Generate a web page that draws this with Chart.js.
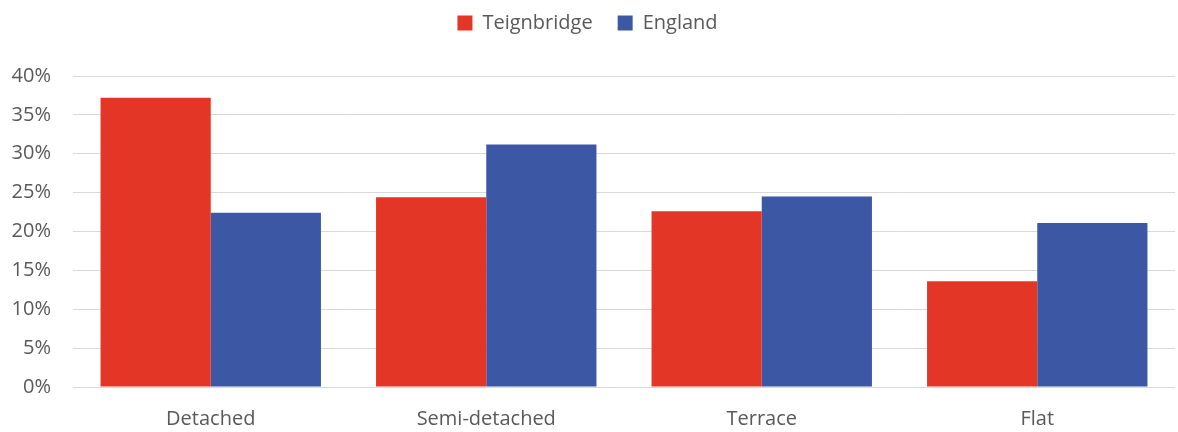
<!DOCTYPE html>
<html>
<head>
<meta charset="utf-8">
<script src="https://cdn.jsdelivr.net/npm/chart.js@4"></script>
<style>
  html, body { margin: 0; padding: 0; background: #fff; }
  #wrap { width: 1178px; height: 432px; }
</style>
</head>
<body>
<div id="wrap"><canvas id="houseChart"></canvas></div>
<script>
const categories = ["Detached", "Semi-detached", "Terrace", "Flat"];
const teignbridge = [37.2, 24.4, 22.6, 13.6];
const england = [22.4, 31.2, 24.5, 21.1];

document.addEventListener("DOMContentLoaded", function () {
  const ctx = document.getElementById("houseChart").getContext("2d");
  const font = { family: "'Open Sans', sans-serif", size: 20 };

  // push the plot down below the legend
  const legendGap = {
    id: "legendGap",
    beforeInit(chart) {
      const fit = chart.legend.fit;
      chart.legend.fit = function () {
        fit.bind(chart.legend)();
        this.height += 33;
      };
    },
  };

  new Chart(ctx, {
    type: "bar",
    data: {
      labels: categories,
      datasets: [
        { label: "Teignbridge", data: teignbridge, backgroundColor: "#e33626" },
        { label: "England", data: england, backgroundColor: "#3c57a4" },
      ],
    },
    plugins: [legendGap],
    options: {
      responsive: true,
      maintainAspectRatio: false,
      animation: false,
      layout: { padding: { left: 0, right: 3, top: -12, bottom: 0 } },
      datasets: { bar: { barPercentage: 1, categoryPercentage: 0.8 } },
      plugins: {
        legend: {
          position: "top",
          labels: {
            boxWidth: 15,
            boxHeight: 15,
            padding: 25,
            color: "#595959",
            font: font,
          },
        },
        tooltip: { enabled: false },
      },
      scales: {
        x: {
          afterFit: function (axis) { axis.height = 45; },
          grid: { display: false },
          border: { display: false },
          ticks: { color: "#595959", font: font, padding: 12 },
        },
        y: {
          min: 0,
          max: 40,
          afterFit: function (axis) { axis.width = 73; },
          grid: { color: "#d9d9d9", lineWidth: 1, drawTicks: false },
          border: { display: false },
          ticks: {
            stepSize: 5,
            color: "#595959",
            padding: 22,
            font: font,
            callback: function (v) { return v + "%"; },
          },
        },
      },
    },
  });
});
</script>
</body>
</html>
